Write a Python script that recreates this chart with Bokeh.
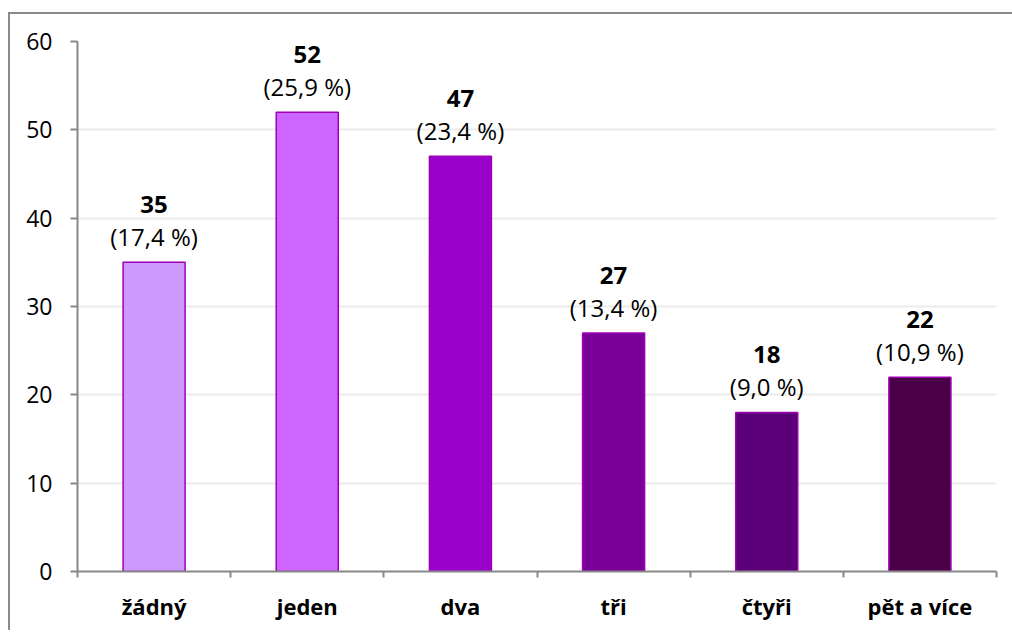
from bokeh.plotting import figure
from bokeh.models import ColumnDataSource, LabelSet, FixedTicker
from bokeh.core.properties import value
from bokeh.embed import file_html
from bokeh.resources import INLINE

categories = ["žádný", "jeden", "dva", "tři", "čtyři", "pět a více"]
counts = [35, 52, 47, 27, 18, 22]
percents = ["(17,4 %)", "(25,9 %)", "(23,4 %)", "(13,4 %)", "(9,0 %)", "(10,9 %)"]
colors = ["#cc99ff", "#cc66ff", "#9900cc", "#7a0099", "#5c007a", "#4a0046"]
y_ticks = [0, 10, 20, 30, 40, 50, 60]

FONT = "Open Sans"
GRAY = "#878787"

xs = [i + 0.5 for i in range(len(categories))]
src = ColumnDataSource(dict(x=xs, top=counts, pct=percents, val=[str(c) for c in counts], color=colors))

p = figure(
    width=1006, height=616,
    frame_width=919, frame_height=530,
    x_range=(0, len(categories)), y_range=(0, 60),
    output_backend="svg", toolbar_location=None,
    min_border_left=67, min_border_right=20, min_border_top=27, min_border_bottom=59,
)
p.styles = {"margin-left": "8px", "margin-top": "12px",
            "border-left": "2px solid #8a8a8a", "border-top": "2px solid #8a8a8a"}
p.outline_line_color = None

p.vbar(x="x", top="top", width=0.405, fill_color="color", line_color="#a000b4", line_width=1.5, source=src)

p.add_layout(LabelSet(x="x", y="top", text="pct", source=src, text_align="center", text_baseline="middle",
                      y_offset=26, text_font=value(FONT), text_font_size=value("24px"), text_color="#000000"))
p.add_layout(LabelSet(x="x", y="top", text="val", source=src, text_align="center", text_baseline="middle",
                      y_offset=58, text_font=value(FONT), text_font_size=value("24px"),
                      text_font_style="bold", text_color="#000000"))

# y axis
p.yaxis.ticker = FixedTicker(ticks=y_ticks)
p.yaxis.axis_line_color = GRAY
p.yaxis.axis_line_width = 2
p.yaxis.major_tick_line_color = GRAY
p.yaxis.major_tick_line_width = 2
p.yaxis.major_tick_in = 0
p.yaxis.major_tick_out = 7
p.yaxis.minor_tick_line_color = None
p.yaxis.major_label_text_font = FONT
p.yaxis.major_label_text_font_size = "23px"
p.yaxis.major_label_text_color = "#000000"
p.yaxis.major_label_standoff = 18

# x axis
p.xaxis.ticker = FixedTicker(ticks=xs, minor_ticks=list(range(len(categories) + 1)))
p.xaxis.major_label_overrides = {x: c for x, c in zip(xs, categories)}
p.xaxis.axis_line_color = GRAY
p.xaxis.axis_line_width = 2
p.xaxis.major_tick_line_color = None
p.xaxis.minor_tick_line_color = GRAY
p.xaxis.minor_tick_line_width = 2
p.xaxis.minor_tick_in = 0
p.xaxis.minor_tick_out = 6
p.xaxis.major_label_text_font = FONT
p.xaxis.major_label_text_font_size = "22px"
p.xaxis.major_label_text_font_style = "bold"
p.xaxis.major_label_text_color = "#000000"
p.xaxis.major_label_standoff = 13

p.xgrid.grid_line_color = None
p.ygrid.ticker = FixedTicker(ticks=y_ticks)
p.ygrid.grid_line_color = "#ebebeb"
p.ygrid.grid_line_width = 2

open("out.html", "w").write(file_html(p, INLINE))
